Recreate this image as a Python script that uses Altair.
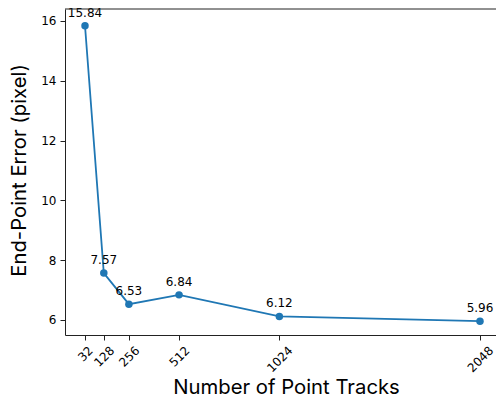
import altair as alt
import pandas as pd

tracks = [32, 128, 256, 512, 1024, 2048]
epe = [15.84, 7.57, 6.53, 6.84, 6.12, 5.96]
x_ticks = [32, 128, 256, 512, 1024, 2048]
y_ticks = [6, 8, 10, 12, 14, 16]

df = pd.DataFrame({"tracks": tracks, "epe": epe})

W, H = 431, 326
blue = "#1f77b4"
ink = "#222222"

x_enc = alt.X(
    "tracks:Q",
    scale=alt.Scale(domain=[-70.1, 2129.7], nice=False, zero=False),
    axis=alt.Axis(
        values=x_ticks,
        format="d",
        title="Number of Point Tracks",
        labelAngle=-45,
        labelAlign="right",
        labelBaseline="middle",
        labelOffset={
            "condition": [
                {"test": "datum.value >= 1000", "value": 10.8},
                {"test": "datum.value >= 100", "value": 8.1},
            ],
            "value": 5.4,
        },
        labelPadding=8,
        labelFlush=False,
        labelOverlap=False,
        labelFont="DejaVu Sans",
        labelFontSize=12,
        labelColor="black",
        tickSize=5,
        titleFont="Inter",
        titleFontSize=20.3,
        titleFontWeight="normal",
        titleColor="black",
        titleBaseline="alphabetic",
        titleAlign="center",
        titleX=221,
        titleY=58,
    ),
)

y_enc = alt.Y(
    "epe:Q",
    scale=alt.Scale(domain=[5.498, 16.401], nice=False, zero=False),
    axis=alt.Axis(
        values=y_ticks,
        title="End-Point Error (pixel)",
        labelFont="DejaVu Sans",
        labelFontSize=12,
        labelColor="black",
        labelPadding=4,
        tickSize=5,
        titleFont="Inter",
        titleFontSize=20.3,
        titleFontWeight="normal",
        titleColor="black",
        titleBaseline="alphabetic",
        titleAlign="center",
        titleX=-40,
        titleY=161,
    ),
)

base = alt.Chart(df)

line = base.mark_line(color=blue, strokeWidth=1.8).encode(x=x_enc, y=y_enc)
pts = base.mark_circle(size=56, color=blue, opacity=1).encode(x=x_enc, y=y_enc)
labels = base.mark_text(
    dy=-9, fontSize=12, font="DejaVu Sans", baseline="alphabetic", align="center", color="black"
).encode(x=x_enc, y=y_enc, text=alt.Text("epe:Q", format=".2f"))

top_spine = alt.Chart(pd.DataFrame({"a": [0]})).mark_rule(color=ink, strokeWidth=1).encode(
    y=alt.value(0), x=alt.value(0), x2=alt.value(W)
)

chart = (
    alt.layer(line, pts, labels, top_spine)
    .properties(
        width=W,
        height=H,
        autosize=alt.AutoSizeParams(type="none"),
        padding={"left": 57, "top": 1, "right": 0, "bottom": 59},
    )
    .configure_view(stroke=None)
    .configure_axis(grid=False, domainColor=ink, tickColor=ink, domainWidth=1, tickWidth=1)
)

chart.save("out.html", embed_options={"renderer": "svg", "actions": False})
